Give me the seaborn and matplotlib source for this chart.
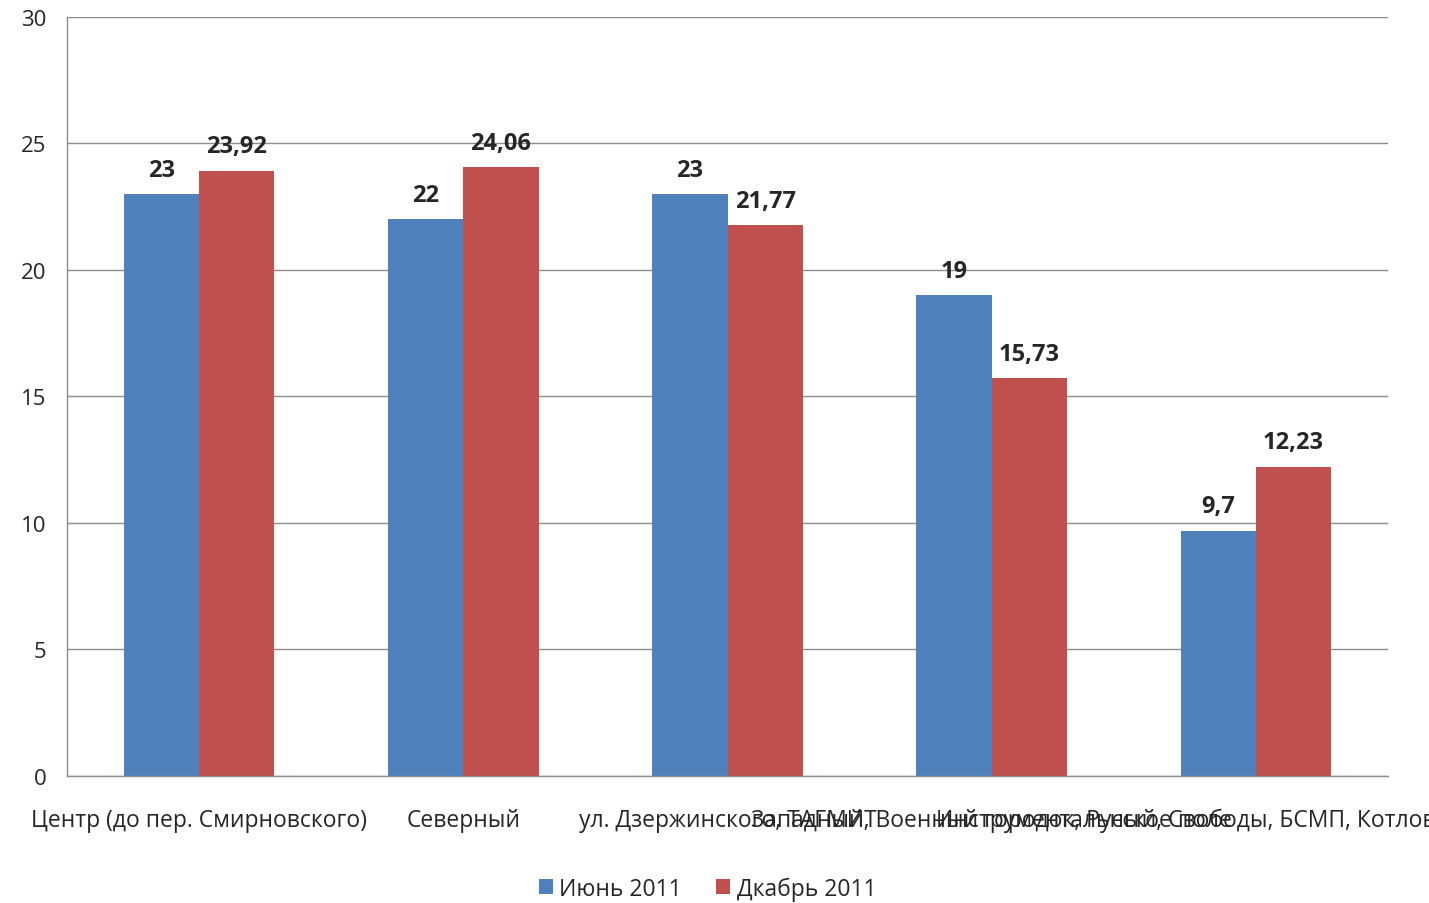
import pandas as pd
import numpy as np
import matplotlib
matplotlib.use('Agg')
import matplotlib.pyplot as plt
import seaborn as sns

# data
categories = [
    'Центр (до пер. Смирновского)',
    'Северный',
    'ул. Дзержинского, ТАГМИТ',
    'Западный, Военный городок, Русское поле',
    'Инструментальный, Свободы, БСМП, Котловина, Южный',
]
series_names = ['Июнь 2011', 'Дкабрь 2011']
june = [23, 22, 23, 19, 9.7]
december = [23.92, 24.06, 21.77, 15.73, 12.23]
june_labels = ['23', '22', '23', '19', '9,7']
december_labels = ['23,92', '24,06', '21,77', '15,73', '12,23']
colors = ['#4F81BD', '#C0504D']

df = pd.DataFrame({
    'cat': categories * 2,
    'series': [series_names[0]] * 5 + [series_names[1]] * 5,
    'value': june + december,
})

sns.set_style('white')
plt.rcParams['font.family'] = ['Open Sans', 'DejaVu Sans']

fig = plt.figure(figsize=(14.29, 9.04), dpi=100)
ax = fig.add_axes([0.0469, 0.1405, 0.9244, 0.8396])

sns.barplot(data=df, x='cat', y='value', hue='series', palette=colors,
            width=0.57, saturation=1, linewidth=0, ax=ax, legend=True)

# data labels
for cont, labs in zip(ax.containers, [june_labels, december_labels]):
    ax.bar_label(cont, labels=labs, padding=9, fontsize=17, fontweight='bold')

ax.set_xlim(-0.5, len(categories) - 0.5)
ax.set_ylim(0, 30)
ax.set_yticks(range(0, 31, 5))
ax.yaxis.grid(True, color='#8c8c8c', linewidth=1)
ax.set_axisbelow(True)
ax.set_xlabel('')
ax.set_ylabel('')

for side in ['top', 'right']:
    ax.spines[side].set_visible(False)
for side in ['left', 'bottom']:
    ax.spines[side].set_color('#8c8c8c')
    ax.spines[side].set_linewidth(1)

ax.tick_params(axis='y', length=7, color='#8c8c8c', labelsize=16, pad=8)
ax.tick_params(axis='x', which='major', length=0, labelsize=16.5, pad=23)
ax.set_xticks(np.arange(-0.5, len(categories)), minor=True)
ax.tick_params(axis='x', which='minor', length=7, color='#8c8c8c', direction='out')

leg = ax.legend(loc='upper center', bbox_to_anchor=(0.485, -0.12), ncol=2,
                frameon=False, fontsize=16.5, handlelength=0.6, handleheight=0.6,
                handletextpad=0.3, columnspacing=1.5, borderaxespad=0)

plt.savefig('out.png', dpi=100)
plt.close()
